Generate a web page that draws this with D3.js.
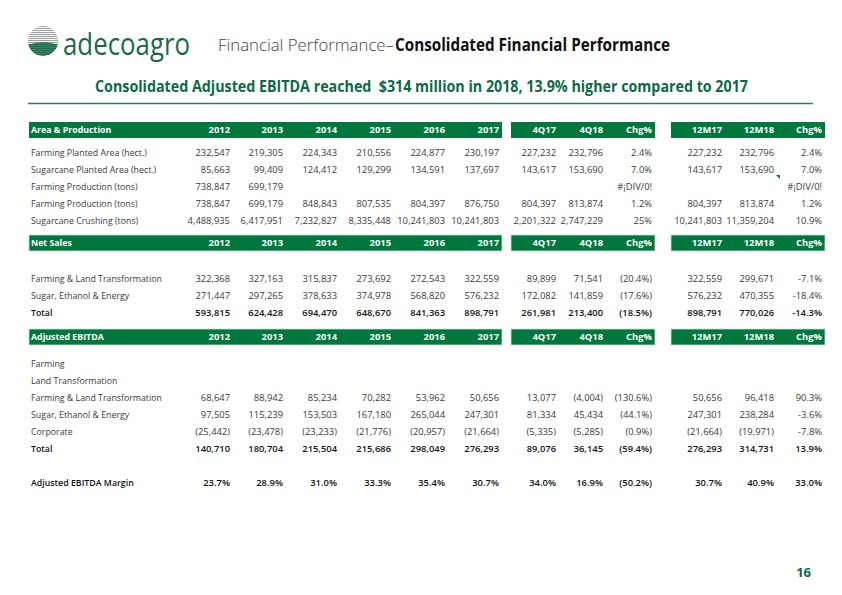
<!DOCTYPE html>
<html><head><meta charset="utf-8">
<script src="https://cdnjs.cloudflare.com/ajax/libs/d3/7.8.5/d3.min.js"></script>
<style>
html,body{margin:0;padding:0;background:#fff;}
svg text{font-family:"Open Sans","Noto Sans",sans-serif;}
</style></head>
<body>
<svg id="c" width="842" height="595"></svg>
<script>
// ---- data ----
const columns = ["2012","2013","2014","2015","2016","2017","4Q17","4Q18","Chg%","12M17","12M18","Chg%b"];
const columnLabels = ["2012","2013","2014","2015","2016","2017","4Q17","4Q18","Chg%","12M17","12M18","Chg%"];

const areaLabels = ["Farming Planted Area (hect.)","Sugarcane Planted Area (hect.)","Farming Production (tons)","Farming Production (tons)","Sugarcane Crushing (tons)"];
const farmingPlanted   = ["232,547","219,305","224,343","210,556","224,877","230,197","227,232","232,796","2.4%","227,232","232,796","2.4%"];
const sugarcanePlanted = ["85,663","99,409","124,412","129,299","134,591","137,697","143,617","153,690","7.0%","143,617","153,690","7.0%"];
const farmingProdA     = ["738,847","699,179","","","","","","","#¡DIV/0!","","","#¡DIV/0!"];
const farmingProdB     = ["738,847","699,179","848,843","807,535","804,397","876,750","804,397","813,874","1.2%","804,397","813,874","1.2%"];
const sugarcaneCrush   = ["4,488,935","6,417,951","7,232,827","8,335,448","10,241,803","10,241,803","2,201,322","2,747,229","25%","10,241,803","11,359,204","10.9%"];

const salesLabels = ["Farming & Land Transformation","Sugar, Ethanol & Energy","Total"];
const salesFarming = ["322,368","327,163","315,837","273,692","272,543","322,559","89,899","71,541","(20.4%)","322,559","299,671","-7.1%"];
const salesSugar   = ["271,447","297,265","378,633","374,978","568,820","576,232","172,082","141,859","(17.6%)","576,232","470,355","-18.4%"];
const salesTotal   = ["593,815","624,428","694,470","648,670","841,363","898,791","261,981","213,400","(18.5%)","898,791","770,026","-14.3%"];

const ebitdaLabels = ["Farming","Land Transformation","Farming & Land Transformation","Sugar, Ethanol & Energy","Corporate","Total","Adjusted EBITDA Margin"];
const ebitdaFarming = [];
const ebitdaLand    = [];
const ebitdaFLT     = ["68,647","88,942","85,234","70,282","53,962","50,656","13,077","(4,004)","(130.6%)","50,656","96,418","90.3%"];
const ebitdaSugar   = ["97,505","115,239","153,503","167,180","265,044","247,301","81,334","45,434","(44.1%)","247,301","238,284","-3.6%"];
const ebitdaCorp    = ["(25,442)","(23,478)","(23,233)","(21,776)","(20,957)","(21,664)","(5,335)","(5,285)","(0.9%)","(21,664)","(19,971)","-7.8%"];
const ebitdaTotal   = ["140,710","180,704","215,504","215,686","298,049","276,293","89,076","36,145","(59.4%)","276,293","314,731","13.9%"];
const ebitdaMargin  = ["23.7%","28.9%","31.0%","33.3%","35.4%","30.7%","34.0%","16.9%","(50.2%)","30.7%","40.9%","33.0%"];

// ---- layout ----
const GREEN = "#00773c";
const svg = d3.select("#c");
const x = d3.scaleOrdinal().domain(columns)
  .range([230,283,337,391,445,499,556,603,652,722,774,822]);
const blocks = [
  {from:"2012", x0:29, x1:502},
  {from:"4Q17", x0:511, x1:655},
  {from:"12M17", x0:671, x1:825}
];
const LABEL_X = 31;

// Logo
const logo = svg.append("g");
const cx = 43, cy = 41, r = 15;
svg.append("clipPath").attr("id","gl").append("circle").attr("cx",cx).attr("cy",cy).attr("r",r);
const lg = logo.append("g").attr("clip-path","url(#gl)");
d3.range(-15,16,2).forEach(dy=>{
  lg.append("rect").attr("x",cx-r).attr("y",cy+dy).attr("width",2*r).attr("height",1.1)
    .attr("fill", dy>2 ? "#1d6e4a" : "#9aa3a0");
});
lg.append("path").attr("d",`M${cx-r},${cy+4} Q${cx},${cy-2} ${cx+r},${cy+4} L${cx+r},${cy+r} L${cx-r},${cy+r}Z`).attr("fill","#1f6f4b").attr("opacity",0.85);
logo.append("text").attr("x",63).attr("y",55).attr("font-size",31).attr("fill","#1a6a48")
  .attr("textLength",127).attr("lengthAdjust","spacingAndGlyphs").text("adecoagro");

// Title
svg.append("text").attr("x",218).attr("y",51).attr("font-size",17).attr("fill","#444")
  .attr("font-weight",300).attr("textLength",176).attr("lengthAdjust","spacingAndGlyphs")
  .text("Financial Performance–");
svg.append("text").attr("x",395).attr("y",51).attr("font-size",17).attr("fill","#111")
  .attr("font-weight",700).attr("textLength",275).attr("lengthAdjust","spacingAndGlyphs")
  .text("Consolidated Financial Performance");

// Subtitle
svg.append("text").attr("x",95).attr("y",92).attr("font-size",16).attr("fill","#0b6a46")
  .attr("font-weight",700).attr("textLength",653).attr("lengthAdjust","spacingAndGlyphs")
  .attr("style","white-space:pre;font-family:'Liberation Sans Narrow','Open Sans',sans-serif")
  .text("Consolidated Adjusted EBITDA reached  $314 million in 2018, 13.9% higher compared to 2017");
svg.append("line").attr("x1",28).attr("x2",813).attr("y1",103.5).attr("y2",103.5)
  .attr("stroke","#2f7a5a").attr("stroke-width",1.5);

// Table sections
const sections = [
  {title:"Area & Production", top:122, rows:[
    {label:areaLabels[0], vals:farmingPlanted, y:153},
    {label:areaLabels[1], vals:sugarcanePlanted, y:169.5},
    {label:areaLabels[2], vals:farmingProdA, y:187},
    {label:areaLabels[3], vals:farmingProdB, y:204},
    {label:areaLabels[4], vals:sugarcaneCrush, y:221}
  ]},
  {title:"Net Sales", top:235, rows:[
    {label:salesLabels[0], vals:salesFarming, y:279},
    {label:salesLabels[1], vals:salesSugar, y:296},
    {label:salesLabels[2], vals:salesTotal, y:313, bold:true}
  ]},
  {title:"Adjusted EBITDA", top:329, rows:[
    {label:ebitdaLabels[0], vals:ebitdaFarming, y:364},
    {label:ebitdaLabels[1], vals:ebitdaLand, y:381},
    {label:ebitdaLabels[2], vals:ebitdaFLT, y:398},
    {label:ebitdaLabels[3], vals:ebitdaSugar, y:415},
    {label:ebitdaLabels[4], vals:ebitdaCorp, y:432},
    {label:ebitdaLabels[5], vals:ebitdaTotal, y:449, bold:true},
    {label:ebitdaLabels[6], vals:ebitdaMargin, y:483, bold:true}
  ]}
];

const FS = 9.4, LFS = 8.8;
sections.forEach(sec=>{
  const g = svg.append("g");
  g.selectAll("rect.h").data(blocks).join("rect")
    .attr("x",d=>d.x0).attr("y",sec.top).attr("width",d=>d.x1-d.x0).attr("height",16)
    .attr("fill",GREEN).attr("stroke","#cfe0d6").attr("stroke-width",sec.top>200?0.8:0);
  g.append("text").attr("x",LABEL_X).attr("y",sec.top+11.3).attr("font-size",LFS)
    .attr("font-weight",700).attr("fill","#fff").text(sec.title);
  g.selectAll("text.hc").data(columns).join("text").attr("class","hc")
    .attr("x",d=>x(d)).attr("y",sec.top+11.3).attr("text-anchor","end")
    .attr("font-size",FS).attr("font-weight",700).attr("fill","#fff")
    .text((d,i)=>columnLabels[i]);
  sec.rows.forEach(row=>{
    g.append("text").attr("x",LABEL_X).attr("y",row.y+3.3).attr("font-size",LFS)
      .attr("font-weight",row.bold?600:400).attr("fill",row.bold?"#111":"#3a3a3a").text(row.label);
    g.selectAll(null).data(row.vals.map((v,i)=>({v,k:columns[i]}))).join("text")
      .attr("x",d=>x(d.k)).attr("y",row.y+3.3).attr("text-anchor","end")
      .attr("font-size",FS).attr("font-weight",row.bold?600:400).attr("fill",row.bold?"#111":"#3a3a3a")
      .text(d=>d.v);
  });
});

// comment marker
svg.append("path").attr("d","M776,175 L780,175 L780,179 Z").attr("fill",GREEN);

// page number
svg.append("text").attr("x",811).attr("y",577).attr("text-anchor","end").attr("font-size",13)
  .attr("font-weight",700).attr("fill","#0b6a46").text("16");
</script>
</body></html>
